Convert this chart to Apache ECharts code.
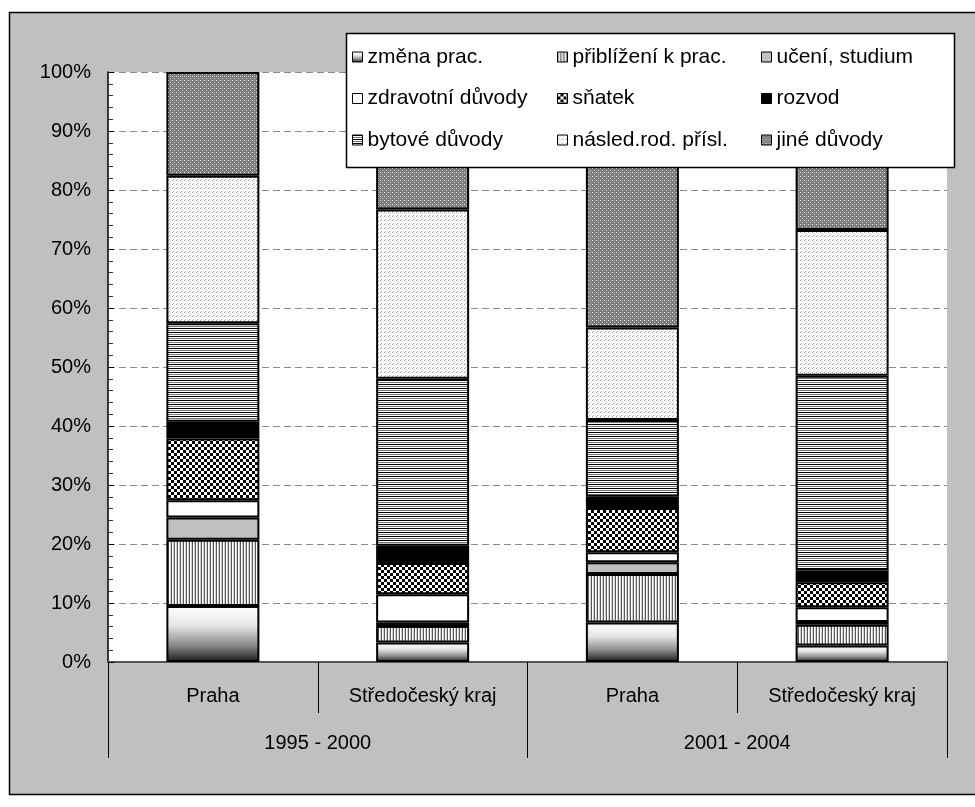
<!DOCTYPE html>
<html>
<head>
<meta charset="utf-8">
<script src="https://cdn.jsdelivr.net/npm/echarts@6/dist/echarts.min.js"></script>
<style>
html,body{margin:0;padding:0;background:#fff;}
#c{width:975px;height:807px;}
</style>
</head>
<body>
<div id="c"></div>
<script>
// ---- data ----
const categories = ['Praha', 'Středočeský kraj', 'Praha', 'Středočeský kraj'];
const periods = ['1995 - 2000', '2001 - 2004'];
const seriesNames = ['změna prac.', 'přiblížení k prac.', 'učení, studium',
                     'zdravotní důvody', 'sňatek', 'rozvod',
                     'bytové důvody', 'násled.rod. přísl.', 'jiné důvody'];
const zmenaPrac  = [9.5, 3.3, 6.7, 2.8];
const priblizeni = [11.2, 2.8, 8.2, 3.5];
const uceni      = [3.8, 0.6, 2.0, 0.5];
const zdravotni  = [2.9, 4.8, 1.7, 2.5];
const snatek     = [10.5, 5.3, 7.5, 4.2];
const rozvod     = [2.8, 2.9, 1.9, 2.0];
const bytove     = [16.7, 28.3, 13.0, 33.0];
const nasled     = [25.0, 28.7, 15.7, 24.7];
const jine       = [17.6, 23.3, 43.3, 26.8];
const seriesValues = [zmenaPrac, priblizeni, uceni, zdravotni, snatek, rozvod, bytove, nasled, jine];

// ---- fills ----
function pat(w, h, draw) {
  const c = document.createElement('canvas');
  c.width = w; c.height = h;
  const ctx = c.getContext('2d');
  draw(ctx);
  return { image: c, repeat: 'repeat' };
}
function px(ctx, x, y, col) { ctx.fillStyle = col; ctx.fillRect(x, y, 1, 1); }

const fills = [
  new echarts.graphic.LinearGradient(0, 0, 0, 1, [
    { offset: 0, color: '#ffffff' },
    { offset: 0.35, color: '#e6e6e6' },
    { offset: 0.7, color: '#8a8a8a' },
    { offset: 1, color: '#1a1a1a' }
  ]),
  pat(3, 1, ctx => { ctx.fillStyle = '#fff'; ctx.fillRect(0, 0, 3, 1); px(ctx, 0, 0, '#5a5a5a'); px(ctx, 2, 0, '#d0d0d0'); }),
  '#c0c0c0',
  '#ffffff',
  pat(6, 6, ctx => { ctx.fillStyle = '#000'; ctx.fillRect(0, 0, 6, 6); ctx.fillStyle = '#fff'; ctx.fillRect(0, 0, 3, 3); ctx.fillRect(3, 3, 3, 3); }),
  '#000000',
  pat(1, 4, ctx => { px(ctx, 0, 0, '#000'); px(ctx, 0, 1, '#fff'); px(ctx, 0, 2, '#777'); px(ctx, 0, 3, '#fff'); }),
  pat(4, 4, ctx => { ctx.fillStyle = '#fff'; ctx.fillRect(0, 0, 4, 4); px(ctx, 0, 0, '#9a9a9a'); px(ctx, 2, 1, '#c4c4c4'); px(ctx, 1, 3, '#a8a8a8'); }),
  pat(4, 4, ctx => { ctx.fillStyle = '#7c7c7c'; ctx.fillRect(0, 0, 4, 4); px(ctx, 0, 0, '#e8e8e8'); px(ctx, 2, 2, '#c8c8c8'); px(ctx, 2, 0, '#9a9a9a'); })
];

const FONT = '"Liberation Sans", Arial, sans-serif';

const series = seriesNames.map((name, i) => ({
  name: name,
  type: 'bar',
  stack: 'total',
  xAxisIndex: 0,
  barWidth: 93,
  data: seriesValues[i],
  itemStyle: { color: fills[i], borderColor: '#000', borderWidth: 2 },
  emphasis: { disabled: true },
  animation: false
}));

function legendCol(left, names) {
  return {
    orient: 'vertical', left: left, top: 46.5, padding: 0,
    itemWidth: 10, itemHeight: 10, itemGap: 20.5, icon: 'rect',
    itemStyle: { borderColor: '#000', borderWidth: 1 },
    textStyle: { fontFamily: FONT, fontSize: 21, color: '#000', lineHeight: 21 },
    selectedMode: false, z: 10,
    data: names
  };
}

const chart = echarts.init(document.getElementById('c'), null, { renderer: 'canvas' });
chart.setOption({
  backgroundColor: '#ffffff',
  animation: false,
  graphic: [
    { type: 'rect', z: -10, shape: { x: 9.5, y: 12.5, width: 980, height: 782 },
      style: { fill: '#c0c0c0', stroke: '#000', lineWidth: 1.5 } },
    { type: 'rect', z: 3, shape: { x: 346.5, y: 33.5, width: 608, height: 134 },
      style: { fill: '#ffffff', stroke: '#000', lineWidth: 1.5 } }
  ],
  legend: [
    legendCol(352, [seriesNames[0], seriesNames[3], seriesNames[6]]),
    legendCol(557, [seriesNames[1], seriesNames[4], seriesNames[7]]),
    legendCol(761, [seriesNames[2], seriesNames[5], seriesNames[8]])
  ],
  grid: { left: 108, right: 28, top: 72, bottom: 145, show: true, backgroundColor: '#ffffff', borderWidth: 0 },
  xAxis: [
    {
      type: 'category', data: categories, position: 'bottom', boundaryGap: true,
      axisLine: { show: true, lineStyle: { color: '#555', width: 2 } },
      axisTick: { show: true, interval: 0, length: 51, lineStyle: { color: '#000', width: 1 } },
      axisLabel: { interval: 0, margin: 24, fontFamily: FONT, fontSize: 20, color: '#000' },
      splitLine: { show: false }
    },
    {
      type: 'category', data: periods, position: 'bottom', boundaryGap: true,
      axisLine: { show: false },
      axisTick: { show: true, interval: 0, length: 96, lineStyle: { color: '#000', width: 1 } },
      axisLabel: { interval: 0, margin: 71, fontFamily: FONT, fontSize: 20, color: '#000' },
      splitLine: { show: false }
    }
  ],
  yAxis: {
    type: 'value', min: 0, max: 100, interval: 10,
    axisLine: { show: true, lineStyle: { color: '#000', width: 1.5 } },
    axisTick: { show: true, inside: true, length: 6, lineStyle: { color: '#000' } },
    minorTick: { show: true, splitNumber: 5, length: 5, lineStyle: { color: '#333' } },
    axisLabel: { formatter: '{value}%', margin: 17, fontFamily: FONT, fontSize: 20, color: '#000' },
    splitLine: { show: true, lineStyle: { color: '#8a8a8a', type: [7, 4], width: 1 } }
  },
  series: series
});
</script>
</body>
</html>
